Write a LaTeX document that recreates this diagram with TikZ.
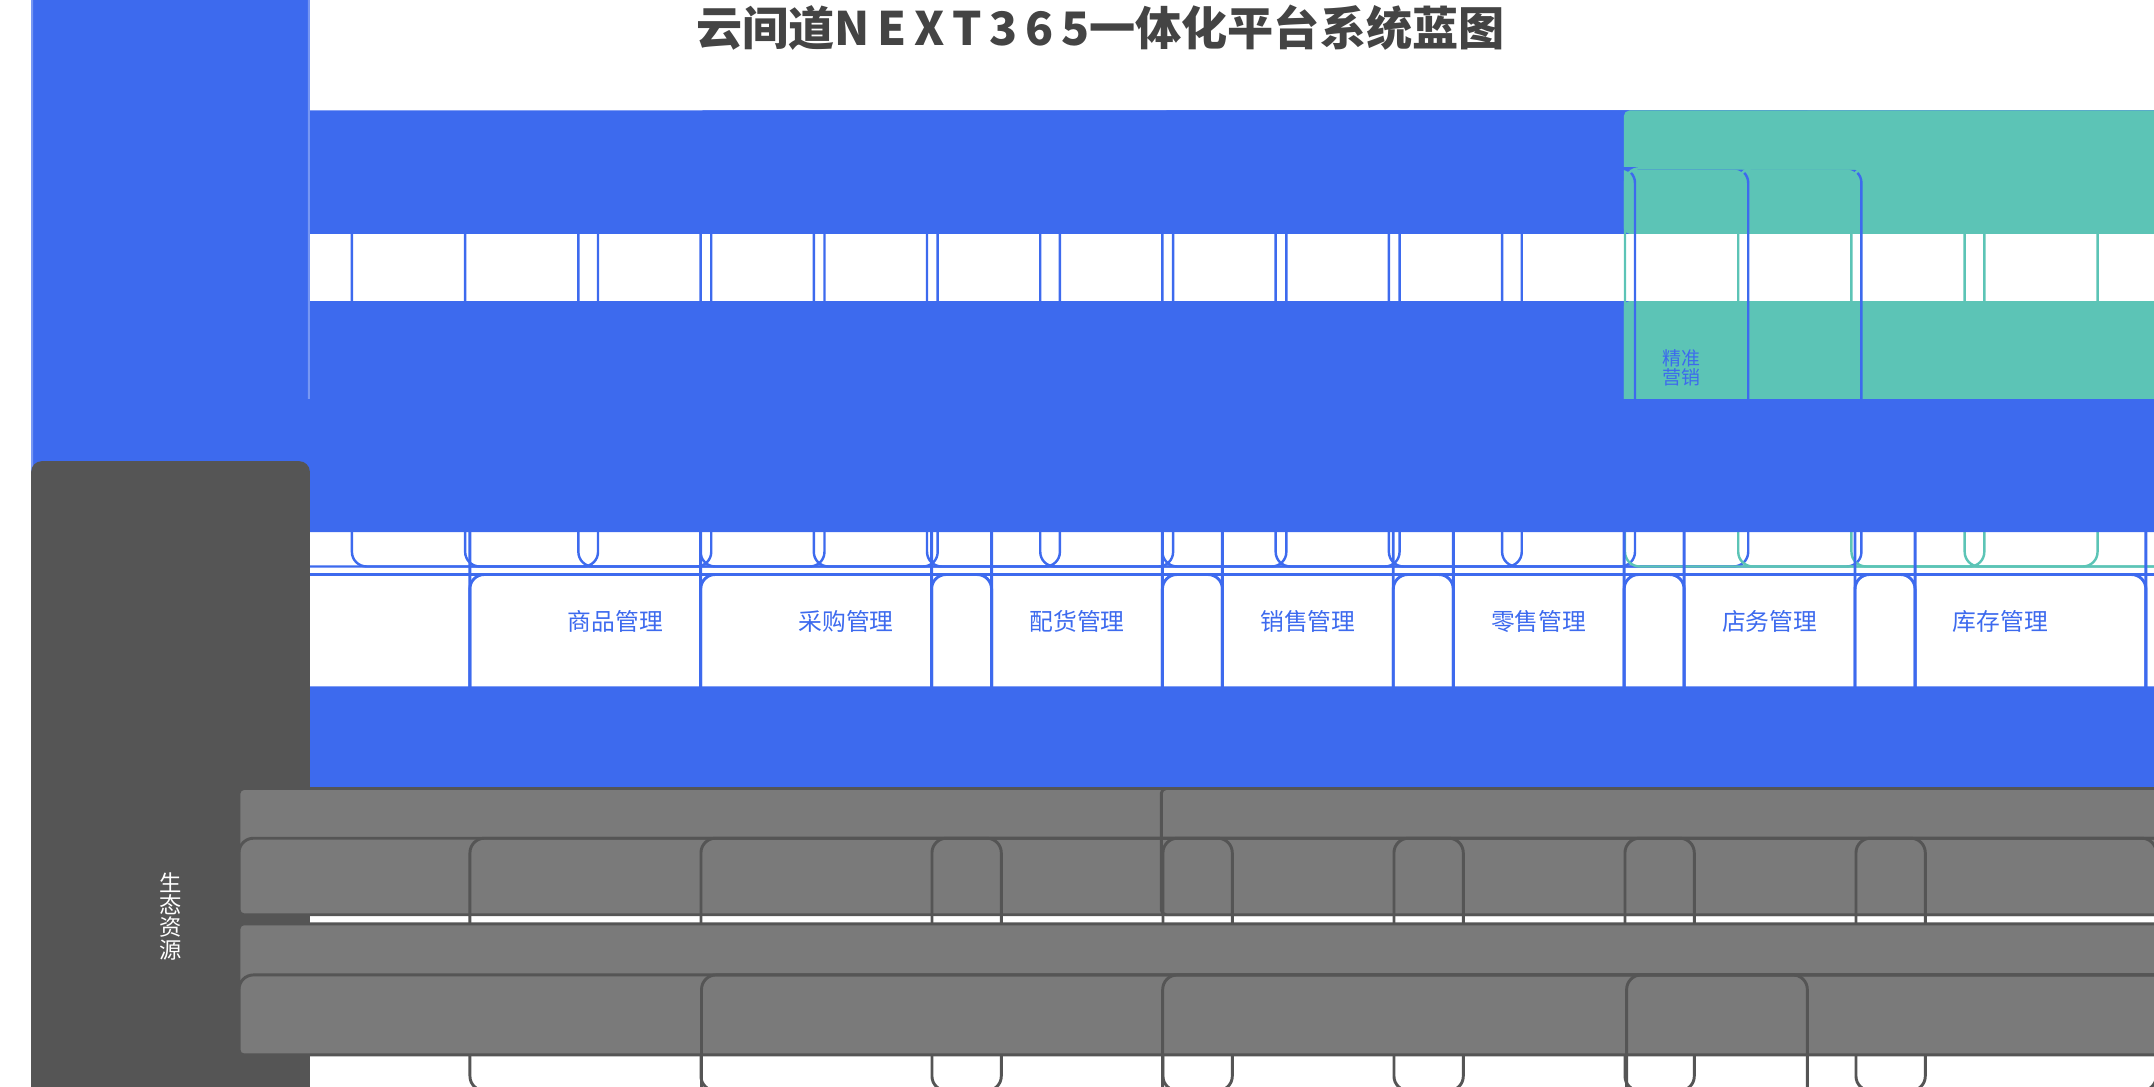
\documentclass[tikz,border=0pt]{standalone}
\usepackage{fontspec}
\setmainfont{Noto Sans CJK SC}
\definecolor{bl}{HTML}{3D6AEE}
\definecolor{tl}{HTML}{5CC4B6}
\definecolor{gy}{HTML}{7A7A7A}
\definecolor{dg}{HTML}{555555}
\definecolor{tt}{HTML}{444444}
\newcommand{\fs}[1]{\fontsize{#1pt}{#1pt}\selectfont}
\begin{document}
\begin{tikzpicture}[x=0.01cm,y=-0.01cm,
 bar/.style={fill=bl,draw=bl,rounded corners=1pt,text=white,font=\fs{4}},
 side/.style={rounded corners=2pt,text=white,font=\fs{4.6},align=center},
 sbox/.style={draw=bl,line width=0.5pt,rounded corners=3pt,text=bl,font=\fs{3.9},align=center},
 mbox/.style={draw=bl,line width=0.6pt,rounded corners=3pt,text=bl,font=\fs{4.9}},
 gbar/.style={fill=gy,draw=dg,line width=0.6pt,rounded corners=1pt,text=white,font=\fs{4}},
 gbox/.style={draw=dg,line width=0.6pt,rounded corners=3pt,text=dg,font=\fs{4},minimum height=52,anchor=north west}]
\useasboundingbox (0,0) rectangle (1560,787);
\node[text=tt,font=\bfseries\fs{9.5}] (title) at (797,20) {云间道N\,E\,X\,T\,3\,6\,5一体化平台系统蓝图};
% row 1
\node[side,fill=bl,draw=bl!70,minimum width=57,minimum height=173] (s1) at (123.5,165.5) {渠\\道\\终\\端};
\foreach \h/\x/\c [count=\i] in {线下门店/172/bl,线上商城/505/bl,在线导购/841/bl,电商平台/1176/tl}{
 \node[bar,fill=\c,draw=\c,minimum width=324,minimum height=25,anchor=north west] (h\i) at (\x,80) {\h};}
\foreach \t/\x/\c [count=\i] in {门店POS/172/bl,SCRM/505/bl,智慧导购/841/bl,电商OMS/1176/tl}{
 \node[bar,fill=\c,draw=\c,font=\fs{4.3},minimum width=324,minimum height=34,anchor=north west] (f\i) at (\x,218) {\t};}
\foreach \t [count=\i from 0] in {零售\\POS,门店\\商品,门店\\店务,门店\\分析,会员\\商城,在线\\会员,营销\\工具,积分\\商城,智慧\\导购,企微\\助手,会员\\画像,精准\\营销}{
 \pgfmathsetmacro\g{int(\i/4)}\pgfmathsetmacro\k{mod(\i,4)}
 \pgfmathsetmacro\xx{172+\g*334.5+\k*82}
 \node[sbox,minimum width=74,minimum height=82,anchor=north west] (b\i) at (\xx,121) {\t};}
\foreach \t [count=\i from 0] in {淘宝\\天猫,京东\\唯品,抖音\\小红书,有赞\\微盟}{
 \pgfmathsetmacro\xx{1176+\i*82}
 \node[sbox,draw=tl,text=tl,minimum width=74,minimum height=82,anchor=north west] (e\i) at (\xx,121) {\t};}
% row 2
\node[side,fill=bl,draw=bl!70,minimum width=57,minimum height=243] (s2) at (123.5,410.5) {E\\R\\P\\后\\台};
\node[bar,minimum width=1326,minimum height=27,anchor=north west] (erp) at (172,289) {新零售ERP};
\foreach \t [count=\i from 0] in {商品管理,采购管理,配货管理,销售管理,零售管理,店务管理,库存管理,会员管理}{
 \pgfmathsetmacro\xx{172+\i*167.2}
 \node[mbox,minimum width=155,minimum height=66,anchor=north west] (m\i) at (\xx,333) {\t};}
\foreach \t [count=\i from 0] in {营销管理,商城管理,订单管理,营销工具,财务管理,数据分析,档案中心,系统中心}{
 \pgfmathsetmacro\xx{172+\i*167.2}
 \node[mbox,minimum width=155,minimum height=66,anchor=north west] (n\i) at (\xx,415) {\t};}
\node[bar,minimum width=1329,minimum height=35,anchor=north west] (all) at (172,497) {全渠道一体化平台};
% row 3
\node[side,fill=dg,draw=dg,minimum width=57,minimum height=187] (s3) at (123.5,663.5) {生\\态\\资\\源};
\node[gbar,minimum width=658,minimum height=26,anchor=north west] (g1) at (172,570) {互联网架构};
\node[gbar,minimum width=663,minimum height=26,anchor=north west] (g2) at (840,570) {基础设施};
\foreach \t [count=\i from 0] in {分布式服务框架,分布式消息队列,分布式缓存,业务实时监控,阿里云{/}华为云,MYSQL数据库,网络宽带,智能硬件}{
 \pgfmathsetmacro\xx{172+\i*167.3}
 \node[gbox,minimum width=157] (c\i) at (\xx,606) {\t};}
\node[gbar,minimum width=1331,minimum height=27,anchor=north west] (co) at (172,668) {协作系统};
\node[gbox,minimum width=323] (d1) at (172,705) {金蝶/用友/SAP};
\node[gbox,minimum width=323] (d2) at (507,705) {SCM/PLM/MRP};
\node[gbox,minimum width=323] (d3) at (841,705) {智能WMS};
\node[gbox,minimum width=323] (d4) at (1177,705) {协同OA};
\end{tikzpicture}
\end{document}
